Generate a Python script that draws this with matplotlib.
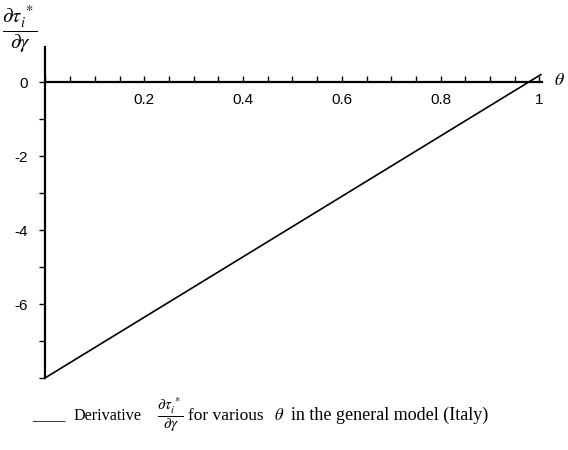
import matplotlib
matplotlib.use("Agg")
import matplotlib.pyplot as plt
from matplotlib.ticker import MultipleLocator, FixedLocator

# data
theta = [0.0, 1.003]
deriv = [-7.98, 0.2]
xticks = [0.2, 0.4, 0.6, 0.8, 1.0]
xticklabels = ["0.2", "0.4", "0.6", "0.8", "1"]
yticks = [0, -2, -4, -6]
yticklabels = ["0", "-2", "-4", "-6"]

plt.rcParams["mathtext.fontset"] = "stix"

fig = plt.figure(figsize=(5.68, 4.5), dpi=100)
ax = fig.add_axes([0.080, 0.159, 0.874, 0.737])

ax.plot(theta, deriv, color="black", lw=1.2, clip_on=False)

ax.set_xlim(0, 1.005)
ax.set_ylim(-8, 0.95)

ax.spines["top"].set_visible(False)
ax.spines["right"].set_visible(False)
ax.spines["bottom"].set_position(("data", 0))
ax.spines["bottom"].set_linewidth(1.6)
ax.spines["left"].set_linewidth(1.6)

ax.xaxis.set_major_locator(FixedLocator(xticks))
ax.set_xticklabels(xticklabels, fontfamily="Liberation Sans", fontsize=11)
ax.xaxis.set_minor_locator(MultipleLocator(0.05))
ax.yaxis.set_major_locator(FixedLocator(yticks))
ax.set_yticklabels(yticklabels, fontfamily="Liberation Sans", fontsize=11)
ax.yaxis.set_minor_locator(FixedLocator([-1, -3, -5, -7, -8]))

ax.tick_params(axis="x", which="both", direction="in", length=4, width=1, pad=8)
ax.tick_params(axis="y", which="both", direction="out", length=4, width=1, pad=9)

# axis labels
fig.text(0.003, 0.935, r"$\dfrac{\partial\tau_i^{\,*}}{\partial\gamma}$",
         fontsize=15, ha="left", va="center")
fig.text(0.975, 0.822, r"$\theta$", fontsize=13, ha="left", va="center")

# caption, placed piece by piece
cap_y = 0.066
serif = dict(fontfamily="Liberation Serif", fontsize=12, ha="left", va="baseline")
fig.text(32 / 568, cap_y, "____", **serif)
fig.text(73 / 568, cap_y, "Derivative", **dict(serif, fontsize=11.6))
fig.text(170 / 568, cap_y + 0.012,
         r"$\dfrac{\partial\tau_i^{\,*}}{\partial\gamma}$",
         fontsize=11, ha="center", va="center")
fig.text(188 / 568, cap_y, "for various", **dict(serif, fontsize=12.5))
fig.text(274 / 568, cap_y, r"$\theta$", fontsize=12, ha="left", va="baseline")
fig.text(291 / 568, cap_y, "in the general model (Italy)", **dict(serif, fontsize=13))

fig.savefig("out.png", dpi=100)
